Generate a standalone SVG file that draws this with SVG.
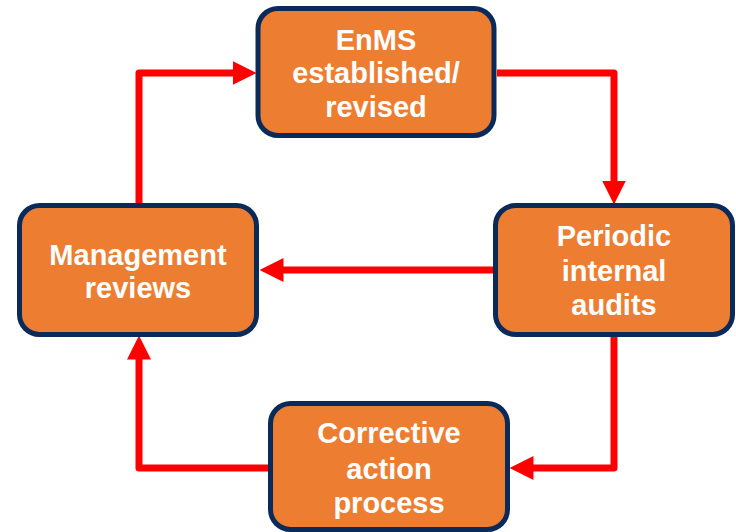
<svg xmlns="http://www.w3.org/2000/svg" width="736" height="532" viewBox="0 0 736 532">
<style>
.box{fill:#ED7D31;stroke:#0A2B5A;stroke-width:5}
.lbl{font-family:"Liberation Sans",Arial,sans-serif;font-weight:bold;font-size:29px;fill:#FFFFFF;text-anchor:middle}
.conn{fill:none;stroke:#FF0000;stroke-width:7;stroke-linejoin:round;marker-end:url(#ah)}
</style>
<defs>
<marker id="ah" markerUnits="userSpaceOnUse" markerWidth="24" markerHeight="24" viewBox="0 0 24 24" refX="0.5" refY="12" orient="auto">
<path d="M0,0 L24,12 L0,24 z" fill="#FF0000"/>
</marker>
</defs>
<rect width="736" height="532" fill="#FFFFFF"/>
<g id="connectors">
<path class="conn" d="M139,205 V73 H233"/>
<path class="conn" d="M497,73 H614 V181"/>
<path class="conn" d="M493,270 H283"/>
<path class="conn" d="M614,337 V468 H533"/>
<path class="conn" d="M268,468 H139 V359"/>
</g>
<g id="enms">
<rect class="box" x="258" y="8.5" width="236" height="127" rx="20"/>
<text class="lbl" x="376" y="50">EnMS</text>
<text class="lbl" x="376" y="83">established/</text>
<text class="lbl" x="376" y="117">revised</text>
</g>
<g id="audits">
<rect class="box" x="495.5" y="205.5" width="237" height="129" rx="20"/>
<text class="lbl" x="614" y="246">Periodic</text>
<text class="lbl" x="614" y="281">internal</text>
<text class="lbl" x="614" y="315">audits</text>
</g>
<g id="mgmt">
<rect class="box" x="19.5" y="205.5" width="237" height="129" rx="20"/>
<text class="lbl" x="138" y="265">Management</text>
<text class="lbl" x="138" y="298">reviews</text>
</g>
<g id="corrective">
<rect class="box" x="270.5" y="403.5" width="237" height="126" rx="20"/>
<text class="lbl" x="389" y="443">Corrective</text>
<text class="lbl" x="389" y="479">action</text>
<text class="lbl" x="389" y="513">process</text>
</g>
</svg>
